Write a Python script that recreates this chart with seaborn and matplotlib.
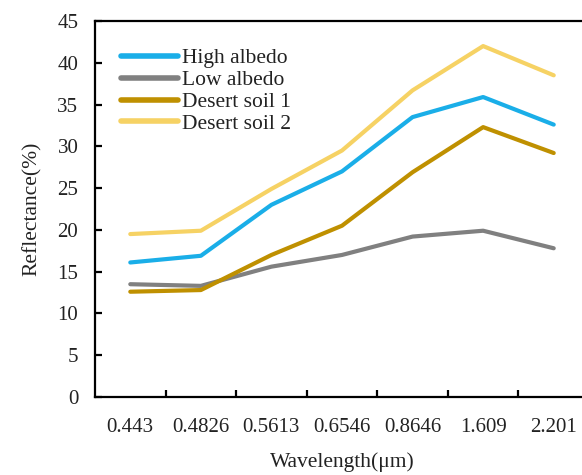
import matplotlib
matplotlib.use("Agg")
import matplotlib.pyplot as plt
import seaborn as sns
import pandas as pd
from matplotlib.ticker import FixedLocator, MultipleLocator
from matplotlib.font_manager import FontProperties

wavelengths = ["0.443", "0.4826", "0.5613", "0.6546", "0.8646", "1.609", "2.201"]
high_albedo = [16.1, 16.9, 23.0, 27.0, 33.5, 35.9, 32.6]
low_albedo = [13.5, 13.3, 15.6, 17.0, 19.2, 19.9, 17.8]
desert_soil_1 = [12.6, 12.8, 17.0, 20.5, 26.9, 32.3, 29.2]
desert_soil_2 = [19.5, 19.9, 24.9, 29.5, 36.7, 42.0, 38.5]

series_names = ["High albedo", "Low albedo", "Desert soil 1", "Desert soil 2"]
series_values = [high_albedo, low_albedo, desert_soil_1, desert_soil_2]
colors = ["#1AAEE8", "#808080", "#BF9000", "#F6D264"]

rows = []
for name, vals in zip(series_names, series_values):
    for w, v in zip(wavelengths, vals):
        rows.append({"Wavelength": w, "Reflectance": v, "Series": name})
df = pd.DataFrame(rows)

sns.set_theme(style="white")
FAM = ["Liberation Serif", "DejaVu Serif"]
plt.rcParams["font.family"] = FAM
plt.rcParams["mathtext.fontset"] = "stix"

fig = plt.figure(figsize=(5.82, 4.75), dpi=100)
ax = fig.add_axes([95 / 582, 78 / 475, 494 / 582, 376 / 475])

sns.lineplot(data=df, x="Wavelength", y="Reflectance", hue="Series",
             hue_order=series_names, palette=colors, linewidth=3.0,
             sort=False, ax=ax, legend=True)

ax.set_xlim(-0.5, 6.5)
ax.set_ylim(0, 45)
ax.yaxis.set_major_locator(MultipleLocator(5))
ax.set_xticks(range(len(wavelengths)))
ax.set_xticklabels(wavelengths)
ax.xaxis.set_minor_locator(FixedLocator([0.5, 1.5, 2.5, 3.5, 4.5, 5.5]))

ax.tick_params(axis="x", which="major", length=0, labelsize=15, pad=15, colors="#222222")
ax.tick_params(axis="x", which="minor", length=5, width=1.6, direction="in", bottom=True, color="black")
ax.tick_params(axis="y", which="major", length=5, width=1.6, direction="in", left=True,
               labelsize=15, pad=12, colors="#222222")
ax.tick_params(axis="y", color="black")
for lab in ax.get_xticklabels() + ax.get_yticklabels():
    lab.set_fontfamily(FAM)

for side in ["left", "bottom", "top", "right"]:
    ax.spines[side].set_visible(True)
    ax.spines[side].set_color("black")
    ax.spines[side].set_linewidth(1.6)

ax.set_xlabel("Wavelength(μm)", fontsize=15.5, color="#222222", labelpad=11, fontfamily=FAM)
ax.set_ylabel("Reflectance(%)", fontsize=15.5, color="#222222", labelpad=11, fontfamily=FAM)

leg = ax.legend(loc="upper left", bbox_to_anchor=(0.035, 0.95), frameon=False,
                prop=FontProperties(family=FAM, size=15.5), handlelength=2.65,
                handletextpad=0.18, labelspacing=0.08, borderaxespad=0)
for line in leg.get_lines():
    line.set_linewidth(4.0)
    line.set_solid_capstyle("round")
for t in leg.get_texts():
    t.set_color("#222222")

fig.savefig("out.png", dpi=100)
